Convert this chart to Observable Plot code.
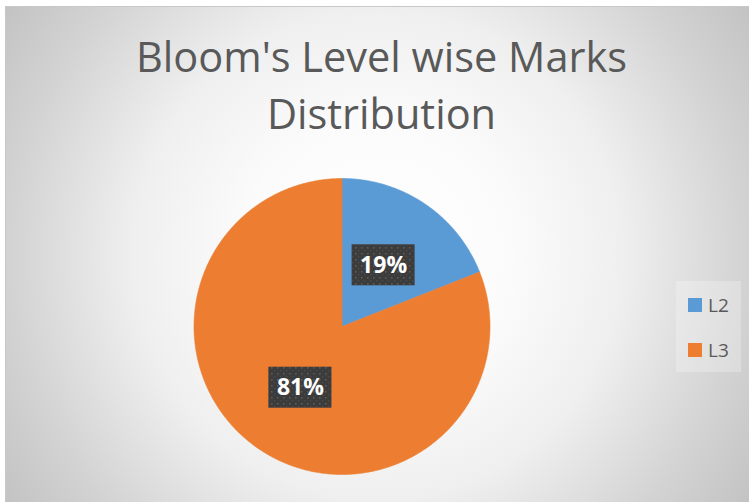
<!DOCTYPE html>
<html>
<head>
<meta charset="utf-8">
<script src="https://cdn.jsdelivr.net/npm/d3@7"></script>
<script src="https://cdn.jsdelivr.net/npm/@observablehq/plot@0.6"></script>
<style>
  html, body { margin: 0; padding: 0; background: #ffffff; }
  #page { position: relative; width: 749px; height: 502px; overflow: hidden; background: #ffffff; }
  #frame {
    position: absolute; left: 5px; top: 6px; width: 744px; height: 496px;
    box-sizing: border-box; border-top: 1px solid #c8c8c8; border-left: 1px solid #c8c8c8;
    background: radial-gradient(circle farthest-corner at 50% 50%, #ffffff 0%, #fbfbfb 30%, #efefef 55%, #d3d3d3 82%, #c3c3c3 100%);
  }
  #title {
    position: absolute; left: 0; top: 28px; width: 763px; text-align: center;
    font-family: "Open Sans", sans-serif; font-weight: 400; font-size: 41.5px; line-height: 57px; color: #595959;
  }
  #legend {
    position: absolute; left: 676px; top: 281px; width: 65px; height: 91px;
    background: rgba(255,255,255,0.25);
    font-family: "Open Sans", sans-serif; font-size: 19px; color: #595959;
  }
  .li { position: absolute; left: 12px; height: 20px; display: flex; align-items: center; }
  .sw { width: 14px; height: 14px; margin-right: 6px; }
  #chart { position: absolute; left: 0; top: 0; }
</style>
</head>
<body>
<div id="page">
  <div id="frame"></div>
  <div id="title">Bloom's Level wise Marks<br>Distribution</div>
  <div id="chart"></div>
  <div id="legend"></div>
</div>
<script>
const categories = ["L2", "L3"];
const values = [19, 81];
const colors = ["#5B9BD5", "#ED7D31"];
const titleText = "Bloom's Level wise Marks Distribution";

const total = d3.sum(values);
let acc = 0;
const slices = categories.map((c, i) => {
  const a0 = acc / total * 2 * Math.PI;
  acc += values[i];
  const a1 = acc / total * 2 * Math.PI;
  const am = (a0 + a1) / 2;
  return { c, v: values[i], a0, a1, lx: 0.5 * Math.sin(am), ly: 0.5 * Math.cos(am),
           pct: Math.round(values[i] / total * 100) + "%" };
});

// polygon vertices for each slice (centre + arc), derived from the values
const pts = [];
for (const s of slices) {
  pts.push({ c: s.c, x: 0, y: 0 });
  const n = Math.max(2, Math.ceil((s.a1 - s.a0) / (Math.PI / 360)));
  for (let k = 0; k <= n; k++) {
    const a = s.a0 + (s.a1 - s.a0) * k / n;
    pts.push({ c: s.c, x: Math.sin(a), y: Math.cos(a) });
  }
  pts.push({ c: s.c, x: 0, y: 0 });
}

const hw = 31.5 / 148, hh = 20.5 / 148; // label box half-size in radius units

const svg = Plot.plot({
  width: 749, height: 502,
  x: { domain: [-1, 1], range: [193.5, 489.5], axis: null },
  y: { domain: [-1, 1], range: [474, 178], axis: null },
  color: { domain: categories, range: colors },
  style: { background: "transparent", overflow: "visible" },
  marks: [
    Plot.line(pts, { x: "x", y: "y", z: "c", fill: "c", stroke: "c", strokeWidth: 0.6, curve: "linear" }),
    Plot.rect(slices, { x1: d => d.lx - hw, x2: d => d.lx + hw, y1: d => d.ly - hh, y2: d => d.ly + hh,
                        fill: "#3c3c3c", ariaLabel: "label-box" }),
    Plot.rect(slices, { x1: d => d.lx - hw, x2: d => d.lx + hw, y1: d => d.ly - hh, y2: d => d.ly + hh,
                        fill: "url(#dots)", ariaLabel: "label-dots" }),
    Plot.text(slices, { x: "lx", y: "ly", text: "pct", fill: "white", fontSize: 23, fontWeight: 700,
                        fontFamily: "Open Sans" })
  ]
});

const s = d3.select(svg);
s.insert("defs", ":first-child").html(`
  <pattern id="dots" width="6" height="6" patternUnits="userSpaceOnUse">
    <rect x="1" y="1" width="1.6" height="1.6" fill="#5a5a5a"/>
    <rect x="4" y="4" width="1.2" height="1.2" fill="#4c4c4c"/>
  </pattern>
  <filter id="sh" x="-30%" y="-30%" width="170%" height="180%">
    <feDropShadow dx="2" dy="3" stdDeviation="2.2" flood-color="#000" flood-opacity="0.5"/>
  </filter>`);
s.select('g[aria-label="label-box"]').attr("filter", "url(#sh)");
document.getElementById("chart").appendChild(svg);

// legend
const lg = document.getElementById("legend");
categories.forEach((c, i) => {
  const it = document.createElement("div");
  it.className = "li";
  it.style.top = (14 + i * 45) + "px";
  it.innerHTML = `<div class="sw" style="background:${colors[i]}"></div><span>${c}</span>`;
  lg.appendChild(it);
});
</script>
</body>
</html>
